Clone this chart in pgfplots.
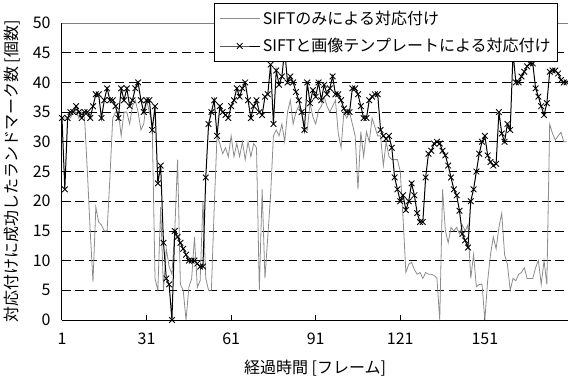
\documentclass[border=0pt]{standalone}
\usepackage{fontspec}
\setmainfont{Noto Sans CJK JP}
\usepackage{pgfplots}
\pgfplotsset{compat=1.18}
\usepackage{pgfplotstable}
\pgfplotstableread{
f g b
1 34 34
2 34 22
3 34 34
4 34 35
5 35 35
6 35 36
7 34 35
8 35 34
9 34 35
10 25 35
11 15 34
12 6.4 36
13 19 38
14 16.5 38
15 16 34
16 15 37
17 15 39
18 24 37
19 34 37
20 35 36
21 35 34
22 31 39
23 35 37
24 35 39
25 33 36
26 36 37
27 37 39
28 35 40
29 32 37
30 33 35
31 37 37
32 35 37
33 33 32
34 7 36
35 5 23
36 19 26
37 5 13
38 12 7
39 9 6
40 7.7 0
41 15 15
42 27 14
43 6 13
44 5 12
45 0 11
46 5.5 10
47 7 10
48 14 10
49 5.5 9.5
50 6.6 9
51 20 9
52 7 24
53 5 33
54 5 35
55 19 37
56 31 31
57 29.7 36
58 28 35
59 29 34.5
60 27.5 34
61 31 36
62 27.5 37
63 29.7 39
64 27.5 37.6
65 30 39
66 27 40
67 30 37
68 27.5 34
69 29.7 36
70 29 37
71 5 35
72 22 34.5
73 7 37.6
74 14 38
75 21 43
76 31 33
77 32 42
78 31 39.6
79 33 41
80 30 45.5
81 35 40
82 37 41
83 33 40
84 35 38.4
85 36 37
86 35 35
87 32.5 32
88 32 40
89 36.5 36.5
90 34.2 38.7
91 33 37.6
92 35.3 40
93 36 37
94 37.6 39.6
95 36 38
96 35 39
97 36 41
98 37 38
99 31.4 38
100 29 37
101 35 35.6
102 34 35
103 35 35
104 33 39
105 31 39
106 22 38
107 31.7 36
108 27.5 34
109 31.7 34
110 30 37
111 34 37.6
112 32.5 38
113 31 38
114 31 32
115 26 31
116 30 30.5
117 27.5 31
118 27 29
119 27 24
120 27 22
121 25 20
122 17 21
123 8 18.5
124 9.4 20
125 9.7 23
126 8.5 21
127 7.7 18
128 8 16.5
129 7 16.5
130 8 24
131 7.7 28
132 7.7 28.5
133 7.5 29.7
134 7 30
135 0 29.7
136 22 28.5
137 15 27.7
138 13 26
139 15.6 24
140 15 22
141 15.6 21
142 14.5 18.4
143 16 14.5
144 15 13.4
145 16 12.2
146 7 20
147 11 22
148 5.6 25
149 6 28
150 6 30
151 0 31
152 6.6 27.7
153 11 26.6
154 14 26
155 12 26.3
156 15.6 35
157 18 31.4
158 11 30
159 9.4 33
160 5 32
161 7 45
162 6.6 40
163 7.7 40
164 8 41
165 8.8 41.8
166 7 42.7
167 7 43.2
168 7 43.2
169 8.8 39
170 10 37.6
171 6 36
172 10 34.5
173 6 36.5
174 33 41.8
175 31.4 42
176 30.3 42
177 31 41.5
178 31.6 40.4
179 30 40
180 30 40
}\data
\begin{document}
\begin{tikzpicture}
\begin{axis}[
  scale only axis, width=379.5pt, height=222.75pt,
  xmin=1, xmax=180.5, ymin=0, ymax=50,
  axis x line*=bottom, axis y line*=left,
  x axis line style={-, black, line width=0.75pt},
  y axis line style={-, black, line width=0.75pt},
  xtick={1,31,61,91,121,151}, tick align=inside, major tick length=4pt,
  xtick style={black, line width=0.75pt},
  ytick={0,5,...,50}, ytick style={draw=none},
  ymajorgrids, major grid style={black, dash pattern=on 6.5pt off 3.5pt, line width=0.6pt},
  tick label style={font=\fontsize{12}{14}\selectfont},
  /pgf/number format/assume math mode=true,
  xticklabel style={yshift=-6pt},
  yticklabel style={xshift=-5pt},
  xlabel={経過時間 [フレーム]},
  ylabel={対応付けに成功したランドマーク数 [個数]},
  label style={font=\fontsize{12}{14}\selectfont},
  xlabel style={at={(axis description cs:0.5,-0.162)}, anchor=center},
  ylabel style={at={(axis description cs:-0.0988,0.5)}, anchor=center},
  legend style={at={(0.3004,1.0673)}, anchor=north west, draw=black, fill=white,
    font=\fontsize{12}{14}\selectfont, row sep=5pt, inner sep=3.5pt, line width=0.75pt},
  legend cell align=left,
  legend image code/.code={\draw[mark repeat=2, mark phase=2, #1] plot coordinates {(0pt,0pt) (15pt,0pt) (30pt,0pt)};},
]
\addplot[black!45, line width=0.6pt] table[x=f,y=g]{\data};
\addlegendentry{SIFTのみによる対応付け}
\addplot[black, line width=0.75pt, mark=x, mark size=3pt, mark options={line width=0.65pt, solid}] table[x=f,y=b]{\data};
\addlegendentry{SIFTと画像テンプレートによる対応付け}
\draw[black!50, line width=0.75pt] (rel axis cs:0,1) -- (rel axis cs:1,1);
\end{axis}
\pgfresetboundingbox
\path[use as bounding box] (-46.5pt,-47.25pt) rectangle (379.5pt,240pt);
\end{tikzpicture}
\end{document}
